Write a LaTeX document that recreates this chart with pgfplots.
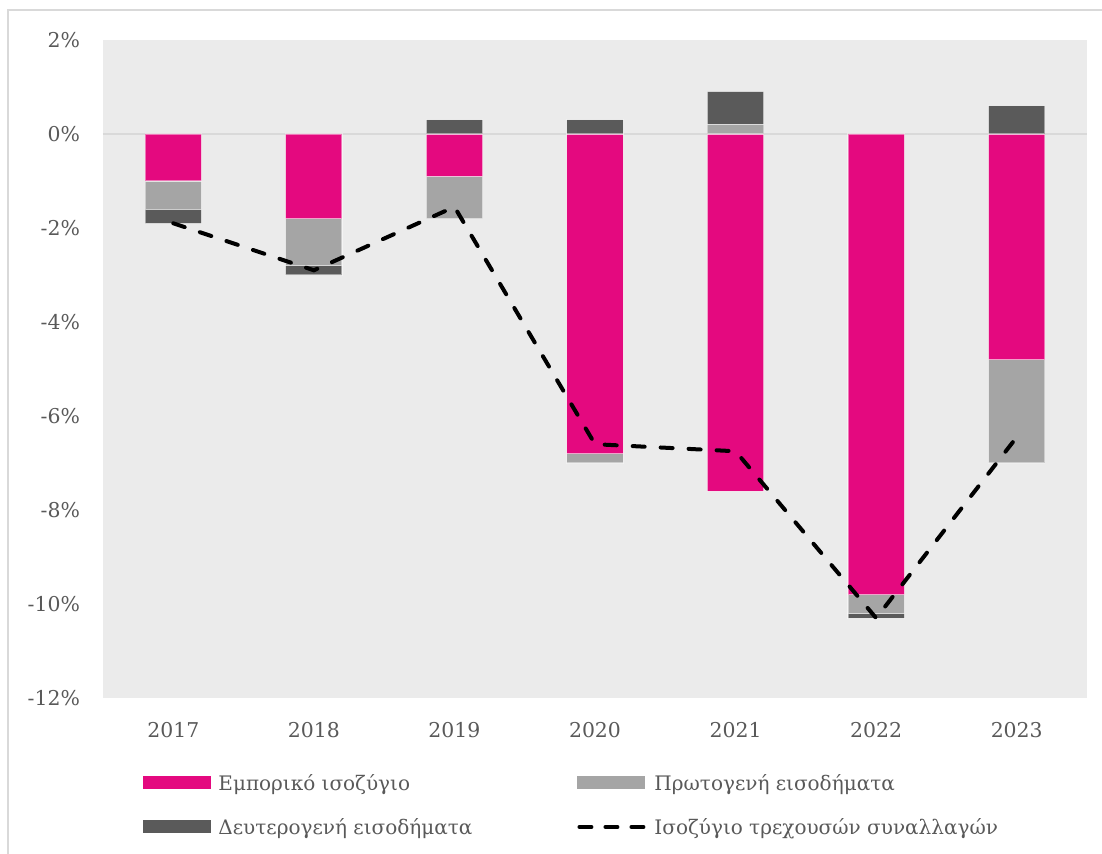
\documentclass[border=0pt]{standalone}
\usepackage{fontspec}
\setmainfont{DejaVu Serif}
\usepackage{pgfplots}
\usepackage{pgfplotstable}
\pgfplotsset{compat=1.18}
\definecolor{pinkc}{HTML}{E4097F}
\definecolor{lgray}{HTML}{A5A5A5}
\definecolor{dgray}{HTML}{5A5A5A}
\definecolor{bgc}{HTML}{EBEBEB}
\definecolor{txt}{HTML}{595959}
\definecolor{zline}{HTML}{D9D9D9}
\pgfplotsset{
 barleg/.style={legend image code/.code={\fill[##1] (0pt,-3.25pt) rectangle (34pt,3.25pt); \path (37.5pt,0pt);}},
 lineleg/.style={legend image code/.code={\draw[##1, dash pattern=on 6pt off 7pt] (1pt,0pt) -- (33pt,0pt); \path (0pt,0pt) (37.5pt,0pt);}},
 common/.style={at={(51.5pt,77.5pt)}, anchor=south west, scale only axis,
   width=492pt, height=329pt, xmin=-0.5, xmax=6.5, ymin=-12, ymax=2},
 edge/.style={draw=white, draw opacity=0.45, line width=0.6pt},
}
\pgfplotstableread{
x trade primneg secneg primpos secpos total
0 -1.0 -0.6 -0.3 0 0 -1.9
1 -1.8 -1.0 -0.2 0 0 -2.9
2 -0.9 -0.9 0 0 0.3 -1.55
3 -6.8 -0.2 0 0 0.3 -6.6
4 -7.6 0 0 0.2 0.7 -6.75
5 -9.8 -0.4 -0.1 0 0 -10.3
6 -4.8 -2.2 0 0 0.6 -6.45
}\data
\begin{document}
\begin{tikzpicture}
\path[use as bounding box] (0,0) rectangle (551pt,426.5pt);
\draw[color=zline, line width=1pt] (4pt,-5pt) -- (4pt,421.5pt) -- (560pt,421.5pt);
\begin{axis}[
 common,
 ybar stacked, bar width=0.4,
 axis background/.style={fill=bgc},
 axis line style={draw=none},
 major tick length=0pt,
 xtick={0,...,6},
 xticklabels={2017,2018,2019,2020,2021,2022,2023},
 ytick={-12,-10,-8,-6,-4,-2,0,2},
 yticklabels={-12\%,-10\%,-8\%,-6\%,-4\%,-2\%,0\%,2\%},
 tick label style={font=\fontsize{10.2}{12}\selectfont, text=txt},
 xticklabel style={yshift=-8.5pt},
 yticklabel style={xshift=-8pt},
 extra y ticks={0}, extra y tick labels={},
 extra y tick style={ymajorgrids=true, major grid style={color=zline, line width=0.9pt}},
]
\addplot[fill=pinkc, edge] table[x=x,y=trade]{\data};
\addplot[fill=lgray, edge] table[x=x,y=primneg]{\data};
\addplot[fill=dgray, edge] table[x=x,y=secneg]{\data};
\end{axis}
\begin{axis}[
 common, hide axis,
 ybar stacked, bar width=0.4,
]
\addplot[fill=lgray, edge] table[x=x,y=primpos]{\data};
\addplot[fill=dgray, edge] table[x=x,y=secpos]{\data};
\end{axis}
\begin{axis}[
 common, hide axis,
 legend columns=2,
 legend cell align=left,
 legend style={at={(0.0407,-0.1125)}, anchor=north west, draw=none, fill=none,
   inner sep=0pt, column sep=0pt, row sep=11.5pt,
   font=\fontsize{10}{12}\selectfont, text=txt,
   nodes={inner sep=0pt, text height=9pt, text depth=1.5pt}},
]
\addplot[black, line width=2pt, dash pattern=on 6pt off 8pt, line cap=round, forget plot] table[x=x,y=total]{\data};
\addlegendimage{barleg, fill=pinkc, draw=none}
\addlegendentry{\makebox[178.5pt][l]{Εμπορικό ισοζύγιο}}
\addlegendimage{barleg, fill=lgray, draw=none}
\addlegendentry{Πρωτογενή εισοδήματα}
\addlegendimage{barleg, fill=dgray, draw=none}
\addlegendentry{\makebox[178.5pt][l]{Δευτερογενή εισοδήματα}}
\addlegendimage{lineleg, black, line width=2pt, line cap=round}
\addlegendentry{Ισοζύγιο τρεχουσών συναλλαγών}
\end{axis}
\end{tikzpicture}
\end{document}
